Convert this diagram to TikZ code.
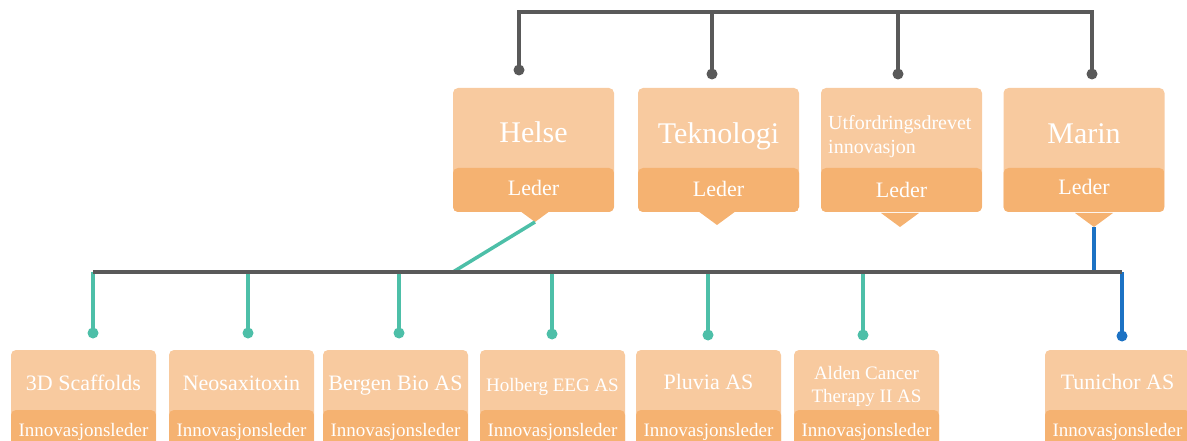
\documentclass[tikz,border=0pt]{standalone}
\usepackage{fontspec}
\setmainfont{Liberation Serif}

\definecolor{lys}{HTML}{F8CA9F}
\definecolor{mork}{HTML}{F5B271}
\definecolor{strek}{HTML}{595959}
\definecolor{gronn}{HTML}{4DBFA8}
\definecolor{blaa}{HTML}{1C72C4}

\tikzset{
  boks/.style={rectangle, rounded corners=5pt, fill=lys, inner sep=0pt},
  overboks/.style={boks, minimum width=161pt, minimum height=124pt,
    path picture={\fill[mork] (path picture bounding box.south west) rectangle ([yshift=44pt]path picture bounding box.south east);}},
  underboks/.style={boks, minimum width=145pt, minimum height=110pt,
    path picture={\fill[mork] (path picture bounding box.south west) rectangle ([yshift=50pt]path picture bounding box.south east);}},
  tekst/.style={text=white, inner sep=0pt, text depth=0pt},
  tittel/.style={tekst, text height=20pt, font=\fontsize{30}{36}\selectfont},
  leder/.style={tekst, text height=14.5pt, font=\fontsize{22}{26}\selectfont},
  navn/.style={tekst, text height=14.5pt, font=\fontsize{22}{26}\selectfont},
  liten/.style={tekst, text height=12.5pt, font=\fontsize{19}{23}\selectfont},
  prikk/.style={circle, inner sep=0pt, minimum size=11pt},
  linje/.style={line width=3.5pt},
}

\begin{document}
\begin{tikzpicture}[x={(1pt,0)}, y={(0,-1pt)}]
        \useasboundingbox (0,0) rectangle (1187,441);

        % fagomraader
        \node[overboks] (helse) at (533.5,150) {};
        \node[overboks] (tek) at (718.5,150) {};
        \node[overboks] (utf) at (901.5,150) {};
        \node[overboks] (marin) at (1084,150) {};
        \coordinate (helse-spiss) at (535,222);
        \coordinate (tek-spiss) at (717,225);
        \coordinate (utf-spiss) at (900,227);
        \coordinate (marin-spiss) at (1094,227);
        \fill[mork] ([shift={(-19,-14)}]helse-spiss) -- (helse-spiss) -- ([shift={(19,-14)}]helse-spiss) -- cycle;
        \fill[mork] ([shift={(-19,-14)}]tek-spiss) -- (tek-spiss) -- ([shift={(19,-14)}]tek-spiss) -- cycle;
        \fill[mork] ([shift={(-19,-14)}]utf-spiss) -- (utf-spiss) -- ([shift={(19,-14)}]utf-spiss) -- cycle;
        \fill[mork] ([shift={(-19,-14)}]marin-spiss) -- (marin-spiss) -- ([shift={(19,-14)}]marin-spiss) -- cycle;

        \node[tittel] (helse-navn) at (533.5,133) {Helse};
        \node[tittel] (tek-navn) at (718.5,134) {Teknologi};
        \node[text=white, inner sep=0pt, font=\fontsize{20}{24}\selectfont, align=left, anchor=west] (utf-navn) at (828,137) {Utfordringsdrevet\\innovasjon};
        \node[tittel] (marin-navn) at (1084,134) {Marin};
        \node[leder] (helse-leder) at (533.5,188) {Leder};
        \node[leder] (tek-leder) at (718.5,189) {Leder};
        \node[leder] (utf-leder) at (901.5,190) {Leder};
        \node[leder] (marin-leder) at (1084,187) {Leder};

        % toppen
        \node[prikk, fill=strek] (helse-prikk) at (519,70) {};
        \node[prikk, fill=strek] (tek-prikk) at (712,74) {};
        \node[prikk, fill=strek] (utf-prikk) at (898,74) {};
        \node[prikk, fill=strek] (marin-prikk) at (1092,74) {};
        \coordinate (toppen) at (800,12);
        \draw[linje, strek] (helse-prikk.center) |- (toppen) -| (marin-prikk.center);
        \draw[linje, strek] (tek-prikk.center) -- (tek-prikk.center |- toppen);
        \draw[linje, strek] (utf-prikk.center) -- (utf-prikk.center |- toppen);

        % selskaper
        \node[underboks] (scaffolds) at (83.5,405) {};
        \node[underboks] (neo) at (241.5,405) {};
        \node[underboks] (bergenbio) at (395.5,405) {};
        \node[underboks] (holberg) at (552.5,405) {};
        \node[underboks] (pluvia) at (708.5,405) {};
        \node[underboks] (alden) at (866.5,405) {};
        \node[underboks] (tunichor) at (1117.5,405) {};

        \node[navn] (scaffolds-navn) at (83.5,383) {3D Scaffolds};
        \node[navn] (neo-navn) at (241.5,383) {Neosaxitoxin};
        \node[navn] (bergenbio-navn) at (395.5,383) {Bergen Bio AS};
        \node[liten] (holberg-navn) at (552.5,385) {Holberg EEG AS};
        \node[navn] (pluvia-navn) at (708.5,382) {Pluvia AS};
        \node[text=white, inner sep=0pt, font=\fontsize{19}{23}\selectfont, align=center] (alden-navn) at (866.5,386) {Alden Cancer\\Therapy II AS};
        \node[navn] (tunichor-navn) at (1117.5,382) {Tunichor AS};

        \node[liten] (scaffolds-rolle) at (83.5,430) {Innovasjonsleder};
        \node[liten] (neo-rolle) at (241.5,430) {Innovasjonsleder};
        \node[liten] (bergenbio-rolle) at (395.5,430) {Innovasjonsleder};
        \node[liten] (holberg-rolle) at (552.5,430) {Innovasjonsleder};
        \node[liten] (pluvia-rolle) at (708.5,430) {Innovasjonsleder};
        \node[liten] (alden-rolle) at (866.5,430) {Innovasjonsleder};
        \node[liten] (tunichor-rolle) at (1117.5,430) {Innovasjonsleder};

        % linjer ned til selskapene
        \node[prikk, fill=gronn] (scaffolds-prikk) at (93,333) {};
        \node[prikk, fill=gronn] (neo-prikk) at (248,333) {};
        \node[prikk, fill=gronn] (bergenbio-prikk) at (399,333) {};
        \node[prikk, fill=gronn] (holberg-prikk) at (552,334) {};
        \node[prikk, fill=gronn] (pluvia-prikk) at (708,335) {};
        \node[prikk, fill=gronn] (alden-prikk) at (863,335) {};
        \node[prikk, fill=blaa] (tunichor-prikk) at (1122,336) {};
        \coordinate (venstre) at (93,272);
        \coordinate (knekk) at (453,272);
        \coordinate (hoyre) at (1122,272);

        \draw[linje, gronn] (helse-spiss) -- (knekk);
        \draw[linje, gronn] (scaffolds-prikk.center) -- (scaffolds-prikk.center |- venstre);
        \draw[linje, gronn] (neo-prikk.center) -- (neo-prikk.center |- venstre);
        \draw[linje, gronn] (bergenbio-prikk.center) -- (bergenbio-prikk.center |- venstre);
        \draw[linje, gronn] (holberg-prikk.center) -- (holberg-prikk.center |- venstre);
        \draw[linje, gronn] (pluvia-prikk.center) -- (pluvia-prikk.center |- venstre);
        \draw[linje, gronn] (alden-prikk.center) -- (alden-prikk.center |- venstre);
        \draw[linje, blaa] (marin-spiss) -- (marin-spiss |- hoyre);
        \draw[linje, blaa] (tunichor-prikk.center) -- (hoyre);
        \draw[linje, strek] (venstre) -- (hoyre);
    \end{tikzpicture}
\end{document}
